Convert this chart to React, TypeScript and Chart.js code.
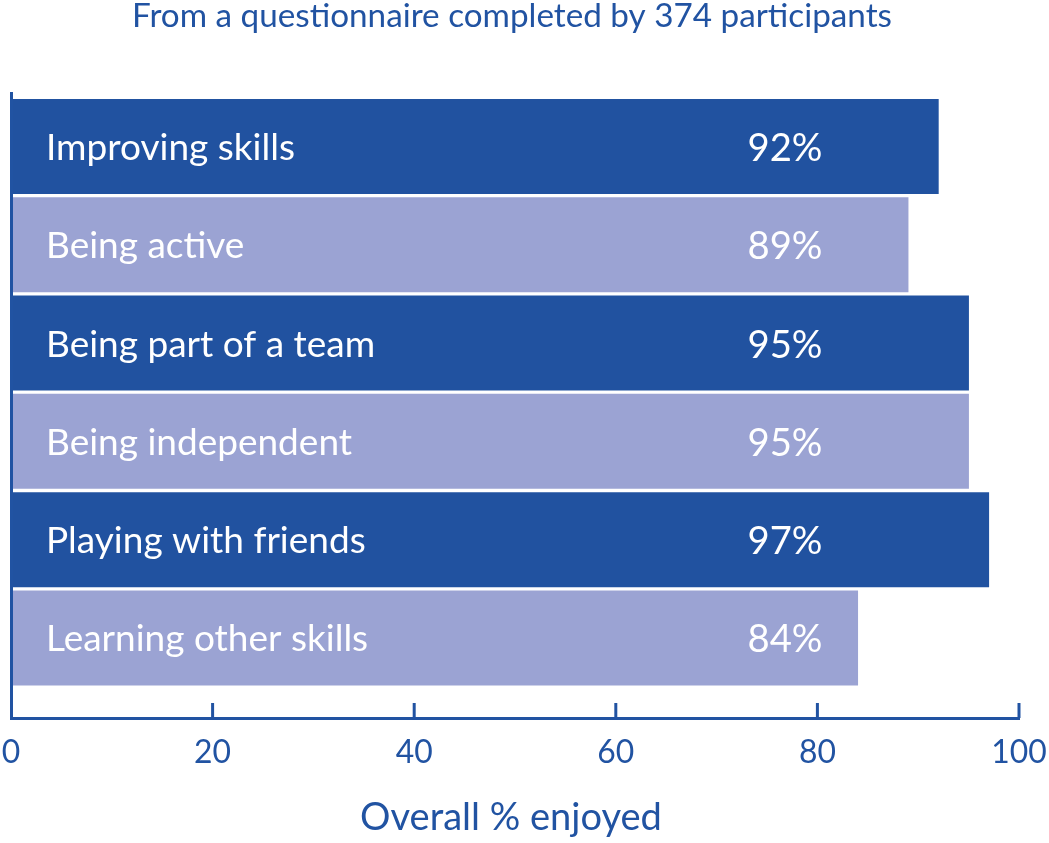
import React, { useEffect, useRef } from "react";
import { Chart, registerables } from "chart.js";

Chart.register(...registerables);

const TITLE = "From a questionnaire completed by 374 participants";
const CATEGORIES = [
  "Improving skills",
  "Being active",
  "Being part of a team",
  "Being independent",
  "Playing with friends",
  "Learning other skills",
];
const VALUES = [92, 89, 95, 95, 97, 84];
const VALUE_LABELS = VALUES.map((v) => `${v}%`);
const X_TICKS = [0, 20, 40, 60, 80, 100];
const X_TITLE = "Overall % enjoyed";

const DARK = "#2152a0";
const LIGHT = "#9ba3d3";
const TEXT = "#2153a2";
const FONT = "Lato";

function measure(text: string, size: number) {
  const c = document.createElement("canvas").getContext("2d")!;
  c.font = `${size}px ${FONT}`;
  return c.measureText(text).width;
}
function fitMany(texts: string[], targets: number[]) {
  let w = 0;
  let t = 0;
  texts.forEach((s, i) => {
    w += measure(s, 100);
    t += targets[i];
  });
  return (100 * t) / w;
}

export default function App() {
  const ref = useRef<HTMLCanvasElement>(null);
  useEffect(() => {
    document.body.style.margin = "0";
    const canvas = ref.current!;
    const fTitle = fitMany([TITLE], [760]);
    const fBar = fitMany(CATEGORIES, [248, 199, 334, 307, 318, 319]);
    const fVal = fitMany(["92%"], [75]);
    const fTick = fitMany(["20", "40", "60", "80"], [37, 37, 37, 37]);
    const fAxis = fitMany([X_TITLE], [302]);
    const CANVAS_H = 843;
    const AXIS_Y = 718;
    const tickPad = Math.max(0, 36 - 0.6 * fTick - 1);

    const textPlugin = {
      id: "inbarText",
      afterDatasetsDraw(chart: any) {
        const { ctx, scales, chartArea } = chart;
        const x = scales.x;
        const y = scales.y;
        ctx.save();
        ctx.strokeStyle = TEXT;
        ctx.lineWidth = 3;
        X_TICKS.forEach((v) => {
          if (v === 0) return;
          const px = x.getPixelForValue(v);
          ctx.beginPath();
          ctx.moveTo(px, chartArea.bottom - 15);
          ctx.lineTo(px, chartArea.bottom);
          ctx.stroke();
        });
        ctx.fillStyle = "#ffffff";
        ctx.textBaseline = "alphabetic";
        CATEGORIES.forEach((c, i) => {
          const cy = y.getPixelForValue(i);
          ctx.font = `${fBar}px ${FONT}`;
          ctx.textAlign = "left";
          ctx.fillText(c, x.getPixelForValue(0) + 35, cy + 13.5);
          ctx.font = `${fVal}px ${FONT}`;
          ctx.textAlign = "right";
          ctx.fillText(VALUE_LABELS[i], x.getPixelForValue(80.5), cy + 14.5);
        });
        ctx.restore();
      },
      afterDraw(chart: any) {
        const { ctx } = chart;
        ctx.save();
        ctx.fillStyle = TEXT;
        ctx.textBaseline = "alphabetic";
        ctx.textAlign = "center";
        ctx.font = `${fTitle}px ${FONT}`;
        ctx.fillText(TITLE, 512, 27);
        ctx.font = `${fAxis}px ${FONT}`;
        ctx.fillText(X_TITLE, 511, 830);
        ctx.restore();
      },
    };

    const chart = new Chart(canvas, {
      type: "bar",
      data: {
        datasets: [
          {
            data: VALUES.map((v, i) => ({ x: v, y: i })),
            backgroundColor: VALUES.map((_, i) => (i % 2 === 0 ? DARK : LIGHT)),
            borderWidth: 0,
            barThickness: "flex",
            barPercentage: 0.96,
            categoryPercentage: 1,
          },
        ],
      },
      options: {
        indexAxis: "y",
        animation: false,
        responsive: false,
        devicePixelRatio: 1,
        layout: { padding: { left: 11, right: 30, top: 93, bottom: 0 } },
        plugins: {
          legend: { display: false },
          tooltip: { enabled: false },
          title: { display: false },
        },
        scales: {
          x: {
            type: "linear",
            position: "bottom",
            min: 0,
            max: 100,
            ticks: {
              stepSize: 20,
              color: TEXT,
              font: { family: FONT, size: fTick },
              padding: tickPad,
              maxRotation: 0,
              autoSkip: false,
            },
            grid: { display: true, drawOnChartArea: false, drawTicks: false, color: "rgba(0,0,0,0)" },
            border: { display: true, color: TEXT, width: 3, z: 1 },
            afterFit: (s: any) => {
              s.height = CANVAS_H - AXIS_Y;
              s.paddingLeft = 0;
              s.paddingRight = 0;
            },
          },
          y: {
            type: "linear",
            reverse: true,
            offset: false,
            bounds: "data",
            grace: 0,
            min: -0.545,
            max: 5.815,
            ticks: { display: false, stepSize: 1, includeBounds: false },
            grid: { display: true, offset: false, drawOnChartArea: false, drawTicks: false, color: "rgba(0,0,0,0)" },
            border: { display: true, color: TEXT, width: 3, z: 1 },
            afterFit: (s: any) => {
              s.width = 0;
              s.paddingTop = 0;
              s.paddingBottom = 0;
            },
          },
        },
      } as any,
      plugins: [textPlugin],
    });
    return () => chart.destroy();
  }, []);
  return (
    <div style={{ width: 1049, height: 843 }}>
      <canvas ref={ref} width={1049} height={843} style={{ display: "block" }} />
    </div>
  );
}
